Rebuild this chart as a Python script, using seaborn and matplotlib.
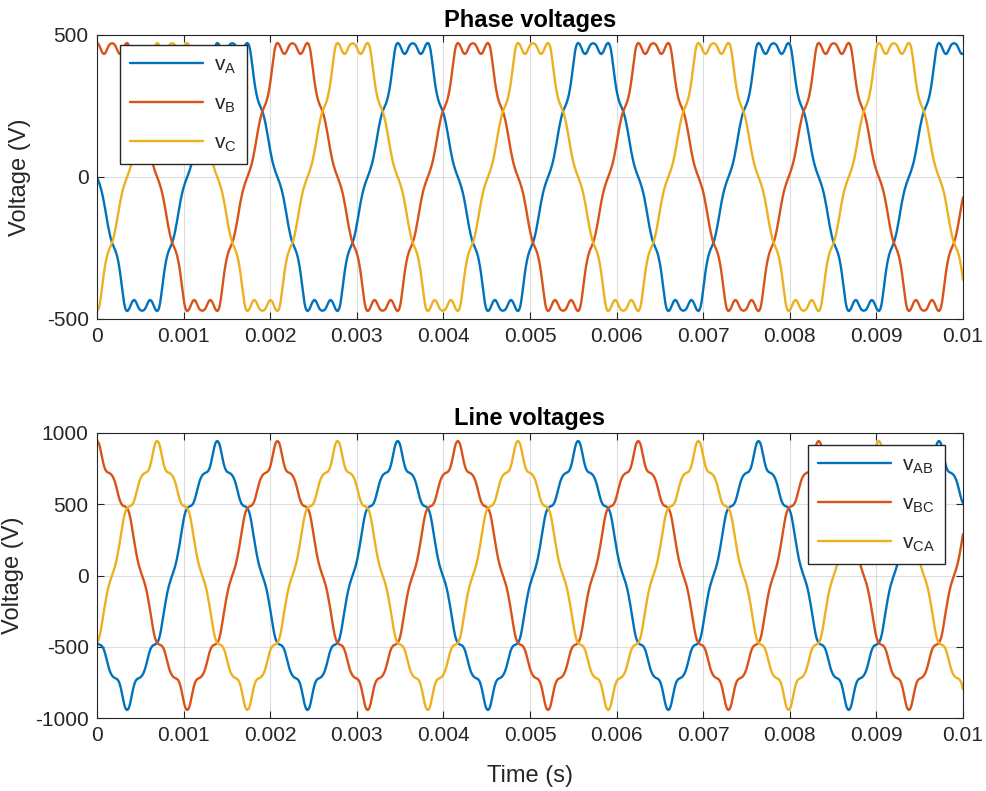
import numpy as np
import pandas as pd
import matplotlib
matplotlib.use("Agg")
import matplotlib.pyplot as plt
import seaborn as sns
from matplotlib.ticker import FixedLocator, FixedFormatter
from matplotlib.lines import Line2D

# ---------------- data ----------------
f0_hz = 480.0                 # fundamental frequency
theta_step_deg = 2            # angular spacing of the sampled table
t_end_s = 0.01
# one quarter period (0..90 deg) of the phase voltage shape, in volts
quarter_wave_v = [0, 9, 19, 30, 42, 56, 72, 90, 110, 131,
                  152, 172, 190, 206, 220, 231, 240, 248, 256, 266,
                  278, 294, 313, 336, 362, 390, 418, 443, 460, 469,
                  472, 470, 465, 457, 448, 440, 435, 433, 435, 441,
                  449, 457, 464, 468, 470, 471]
phase_shift_deg = [0, 120, -120]          # A, B, C
phase_labels = [r"v$_{A}$", r"v$_{B}$", r"v$_{C}$"]
line_labels = [r"v$_{AB}$", r"v$_{BC}$", r"v$_{CA}$"]
colors = ["#0072BD", "#D95319", "#EDB120"]
x_ticks = [0, 0.001, 0.002, 0.003, 0.004, 0.005, 0.006, 0.007, 0.008, 0.009, 0.01]
x_tick_labels = ["0", "0.001", "0.002", "0.003", "0.004", "0.005",
                 "0.006", "0.007", "0.008", "0.009", "0.01"]
phase_y_ticks = [-500, 0, 500]
line_y_ticks = [-1000, -500, 0, 500, 1000]

# ---------------- build series from the table ----------------
q = np.array(quarter_wave_v, dtype=float)
half = np.concatenate([q, q[-2::-1]])             # 0..180 deg
period = np.concatenate([half[:-1], -half[:-1]])  # 0..358 deg
n_per = len(period)
n = int(round(t_end_s * f0_hz * 360 / theta_step_deg)) + 1
k = np.arange(n)
t = k * theta_step_deg / (360.0 * f0_hz)
phase = []
for sh in phase_shift_deg:
    d = int(round(sh / theta_step_deg))
    phase.append(-period[(k - d) % n_per])
line = [phase[0] - phase[1], phase[1] - phase[2], phase[2] - phase[0]]

df_phase = pd.concat([pd.DataFrame({"t": t, "v": v, "s": lab})
                      for v, lab in zip(phase, phase_labels)])
df_line = pd.concat([pd.DataFrame({"t": t, "v": v, "s": lab})
                     for v, lab in zip(line, line_labels)])

# ---------------- style ----------------
sns.set_theme(style="ticks")
plt.rcParams["font.family"] = ["Liberation Sans", "DejaVu Sans"]
plt.rcParams["mathtext.default"] = "regular"
txt = "#262626"
FS = 15
FL = 17

fig = plt.figure(figsize=(9.86, 7.91), dpi=100)
ax1 = fig.add_axes([97 / 986, 1 - 319 / 791, 866 / 986, 284 / 791])
ax2 = fig.add_axes([97 / 986, 1 - 718 / 791, 866 / 986, 285 / 791])


def style_axes(ax, yticks, ylim, title, ylab_x):
    ax.set_xlim(0, t_end_s)
    ax.set_ylim(*ylim)
    ax.xaxis.set_major_locator(FixedLocator(x_ticks))
    ax.xaxis.set_major_formatter(FixedFormatter(x_tick_labels))
    ax.yaxis.set_major_locator(FixedLocator(yticks))
    ax.yaxis.set_major_formatter(FixedFormatter([str(v) for v in yticks]))
    ax.grid(True, color="#262626", alpha=0.15, linewidth=0.8)
    ax.tick_params(direction="in", top=True, right=True, length=5,
                   width=0.8, colors=txt, labelsize=FS, labelcolor=txt, pad=6)
    for s in ax.spines.values():
        s.set_color(txt)
        s.set_linewidth(0.8)
    ax.set_title(title, fontsize=FL, fontweight="bold", color="black", pad=6)
    ax.set_ylabel("Voltage (V)", fontsize=FL, color=txt, va="center")
    ax.yaxis.set_label_coords(ylab_x, 0.5)
    ax.set_xlabel("")


for ax, df, labels in [(ax1, df_phase, phase_labels), (ax2, df_line, line_labels)]:
    sns.lineplot(data=df, x="t", y="v", hue="s", hue_order=labels,
                 palette=colors, linewidth=1.7, sort=False, estimator=None,
                 ax=ax, legend=False)

style_axes(ax1, phase_y_ticks, (-500, 500), "Phase voltages", (20 - 97) / 866)
style_axes(ax2, line_y_ticks, (-1000, 1000), "Line voltages", (13 - 97) / 866)
ax2.set_xlabel("Time (s)", fontsize=FL, color=txt, va="center")
ax2.xaxis.set_label_coords(0.5, (718 - 776) / 285)


def make_legend(ax, labels, loc, anchor, hl):
    handles = [Line2D([], [], color=c, linewidth=1.7) for c in colors]
    leg = ax.legend(handles, labels, loc=loc, bbox_to_anchor=anchor,
                    borderaxespad=0, frameon=True, fancybox=False,
                    edgecolor="#262626", fontsize=FS, handlelength=hl,
                    handletextpad=0.5, labelspacing=0.9, borderpad=0.5)
    leg.get_frame().set_linewidth(1.0)
    leg.get_frame().set_alpha(1)
    for tx in leg.get_texts():
        tx.set_color(txt)
    return leg


make_legend(ax1, phase_labels, "upper left", (23 / 866, 1 - 10 / 284), 3.5)
make_legend(ax2, line_labels, "upper right", (1 - 18 / 866, 1 - 12 / 285), 3.5)

fig.savefig("out.png", dpi=100)
